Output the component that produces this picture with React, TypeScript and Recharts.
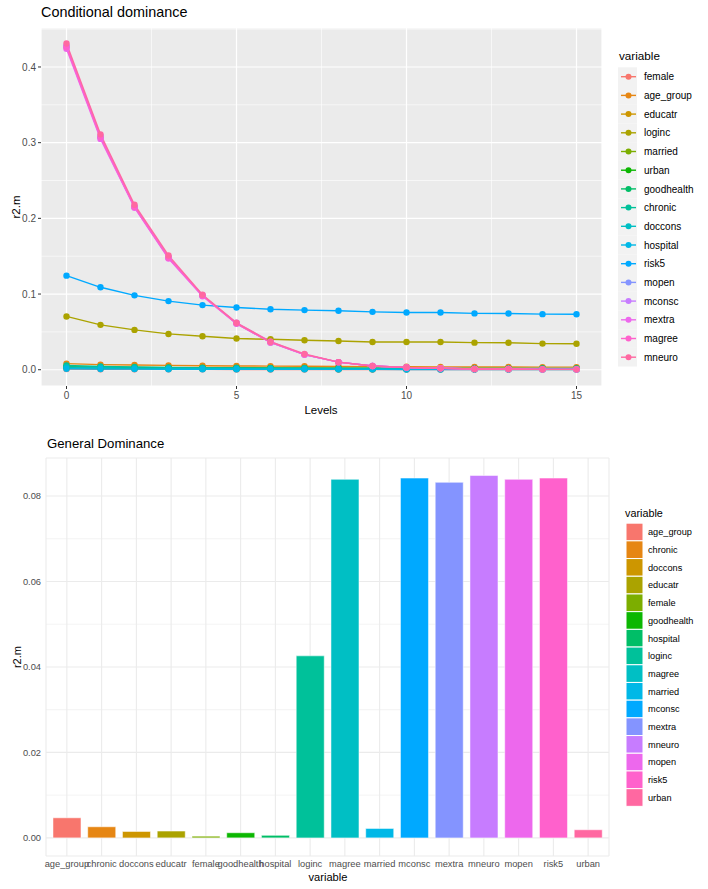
import { LineChart, Line, XAxis, YAxis, CartesianGrid, BarChart, Bar, Cell } from "recharts";

// ---- Conditional dominance (r2.m by number of other predictors) ----
const levels = [0, 1, 2, 3, 4, 5, 6, 7, 8, 9, 10, 11, 12, 13, 14, 15];

const female = [0.0008, 0.0007, 0.0006, 0.0005, 0.0005, 0.0004, 0.0004, 0.0004, 0.0003, 0.0003, 0.0003, 0.0003, 0.0003, 0.0003, 0.0003, 0.0003];
const ageGroup = [0.008, 0.0068, 0.0062, 0.0057, 0.0053, 0.005, 0.0047, 0.0045, 0.0043, 0.0041, 0.0039, 0.0038, 0.0037, 0.0036, 0.0035, 0.0034];
const educatr = [0.004, 0.003, 0.0024, 0.002, 0.0017, 0.0015, 0.0014, 0.0013, 0.0012, 0.0011, 0.0011, 0.001, 0.001, 0.001, 0.0009, 0.0009];
const loginc = [0.0704, 0.0593, 0.0526, 0.0473, 0.0442, 0.0412, 0.0402, 0.0389, 0.038, 0.0367, 0.0367, 0.0366, 0.0358, 0.0357, 0.0345, 0.0344];
const married = [0.004, 0.0034, 0.003, 0.0027, 0.0025, 0.0023, 0.0021, 0.002, 0.0019, 0.0018, 0.0017, 0.0017, 0.0016, 0.0016, 0.0015, 0.0015];
const urban = [0.003, 0.0027, 0.0024, 0.0022, 0.0021, 0.002, 0.0019, 0.0018, 0.0017, 0.0016, 0.0016, 0.0015, 0.0015, 0.0014, 0.0014, 0.0014];
const goodhealth = [0.0035, 0.0025, 0.0019, 0.0015, 0.0012, 0.001, 0.0009, 0.0008, 0.0007, 0.0007, 0.0006, 0.0006, 0.0006, 0.0005, 0.0005, 0.0005];
const chronic = [0.0055, 0.0043, 0.0036, 0.0031, 0.0028, 0.0026, 0.0024, 0.0022, 0.0021, 0.002, 0.0019, 0.0018, 0.0018, 0.0017, 0.0017, 0.0016];
const doccons = [0.0035, 0.0026, 0.0021, 0.0018, 0.0016, 0.0014, 0.0013, 0.0012, 0.0011, 0.0011, 0.001, 0.001, 0.001, 0.0009, 0.0009, 0.0009];
const hospital = [0.0012, 0.0009, 0.0008, 0.0007, 0.0006, 0.0006, 0.0005, 0.0005, 0.0005, 0.0005, 0.0004, 0.0004, 0.0004, 0.0004, 0.0004, 0.0004];
const risk5 = [0.1243, 0.1089, 0.0983, 0.0907, 0.0854, 0.0823, 0.08, 0.0788, 0.0779, 0.0765, 0.0757, 0.0756, 0.0744, 0.0743, 0.0734, 0.0733];
const mopen = [0.427, 0.307, 0.215, 0.148, 0.098, 0.061, 0.036, 0.02, 0.01, 0.005, 0.003, 0.002, 0.001, 0.001, 0.0005, 0.0005];
const mconsc = [0.428, 0.309, 0.216, 0.149, 0.098, 0.062, 0.037, 0.02, 0.01, 0.005, 0.003, 0.002, 0.001, 0.001, 0.0005, 0.0005];
const mextra = [0.424, 0.305, 0.214, 0.147, 0.097, 0.061, 0.036, 0.02, 0.01, 0.005, 0.003, 0.002, 0.001, 0.001, 0.0005, 0.0005];
const magree = [0.426, 0.307, 0.215, 0.148, 0.098, 0.061, 0.036, 0.02, 0.01, 0.005, 0.003, 0.002, 0.001, 0.001, 0.0005, 0.0005];
const mneuro = [0.431, 0.311, 0.218, 0.151, 0.099, 0.062, 0.037, 0.021, 0.01, 0.005, 0.003, 0.002, 0.001, 0.001, 0.0005, 0.0005];

const condVars = ["female", "age_group", "educatr", "loginc", "married", "urban", "goodhealth", "chronic", "doccons", "hospital", "risk5", "mopen", "mconsc", "mextra", "magree", "mneuro"];
const condSeries = [female, ageGroup, educatr, loginc, married, urban, goodhealth, chronic, doccons, hospital, risk5, mopen, mconsc, mextra, magree, mneuro];

// ggplot hue palette, 16 levels
const hue16 = ["#F8766D", "#E68613", "#CD9600", "#ABA300", "#7CAE00", "#0CB702", "#00BE67", "#00C19A", "#00BFC4", "#00B8E7", "#00A9FF", "#8494FF", "#C77CFF", "#ED68ED", "#FF61CC", "#FF68A1"];

const levelTicks = [0, 5, 10, 15];
const levelMinor = [2.5, 7.5, 12.5];
const condYTicks = [0, 0.1, 0.2, 0.3, 0.4];
const condYMinor = [0.05, 0.15, 0.25, 0.35, 0.45];

// ---- General dominance ----
const genVars = ["age_group", "chronic", "doccons", "educatr", "female", "goodhealth", "hospital", "loginc", "magree", "married", "mconsc", "mextra", "mneuro", "mopen", "risk5", "urban"];
const genValues = [0.0047, 0.0026, 0.0015, 0.0016, 0.0004, 0.0012, 0.0006, 0.0426, 0.0839, 0.0022, 0.0842, 0.0832, 0.0848, 0.0839, 0.0842, 0.0019];
const genYTicks = [0, 0.02, 0.04, 0.06, 0.08];
const genYMinor = [0.01, 0.03, 0.05, 0.07];

const FONT = '"Liberation Sans", Arial, sans-serif';

const condData = levels.map((lv, i) => {
  const row: Record<string, number> = { level: lv };
  condVars.forEach((v, k) => {
    row[v] = condSeries[k][i];
  });
  return row;
});

const genData = genVars.map((v, i) => ({ variable: v, value: genValues[i] }));

export default function App() {
  return (
    <div style={{ position: "absolute", left: 0, top: 0, width: 708, height: 889, background: "#fff", fontFamily: FONT, overflow: "hidden" }}>
      {/* top chart */}
      <div style={{ position: "absolute", left: 41, top: 4, fontSize: 14.4, color: "#000", whiteSpace: "nowrap" }}>
        Conditional dominance
      </div>
      <div style={{ position: "absolute", left: 0, top: 0 }}>
        <LineChart width={610} height={420} data={condData} margin={{ top: 28, right: 8, bottom: 10, left: 0 }}>
          <CartesianGrid fill="#EBEBEB" fillOpacity={1} stroke="#FFFFFF" strokeWidth={0.6}
            horizontalValues={condYMinor} verticalValues={levelMinor} />
          <CartesianGrid stroke="#FFFFFF" strokeWidth={1.2} />
          <XAxis dataKey="level" type="number" domain={[-0.75, 15.75]} ticks={levelTicks}
            axisLine={false} tickSize={3} tickMargin={3}
            tickLine={{ stroke: "#333333" }}
            tick={{ fill: "#4D4D4D", fontSize: 10, fontFamily: FONT }} height={24} />
          <YAxis type="number" domain={[-0.0215, 0.4515]} ticks={condYTicks} width={41}
            axisLine={false} tickSize={3} tickMargin={2}
            tickLine={{ stroke: "#333333" }}
            tickFormatter={(v: number) => v.toFixed(1)}
            tick={{ fill: "#4D4D4D", fontSize: 10, fontFamily: FONT }} />
          {condVars.map((v, k) => (
            <Line key={v} dataKey={v} type="linear" stroke={hue16[k]} strokeWidth={1.4}
              dot={{ r: 3.2, fill: hue16[k], stroke: hue16[k], strokeWidth: 0 }}
              activeDot={false} isAnimationActive={false} />
          ))}
        </LineChart>
      </div>
      <div style={{ position: "absolute", left: 16, top: 207, transform: "translate(-50%,-50%) rotate(-90deg)", fontSize: 11.5, whiteSpace: "nowrap" }}>
        r2.m
      </div>
      <div style={{ position: "absolute", left: 321, top: 410, transform: "translate(-50%,-50%)", fontSize: 11.5, whiteSpace: "nowrap" }}>
        Levels
      </div>
      <svg style={{ position: "absolute", left: 600, top: 40 }} width={108} height={340}>
        <text x={19} y={20} fontSize={11.7} fontFamily={FONT} fill="#000">variable</text>
        {condVars.map((v, k) => {
          const cy = 36.7 + k * 18.7;
          return (
            <g key={v}>
              <rect x={18} y={cy - 9.35} width={19} height={18.7} fill="#F2F2F2" />
              <line x1={21} x2={36} y1={cy} y2={cy} stroke={hue16[k]} strokeWidth={1.4} />
              <circle cx={28.5} cy={cy} r={3} fill={hue16[k]} />
              <text x={44} y={cy + 3.6} fontSize={10} fontFamily={FONT} fill="#000">{v}</text>
            </g>
          );
        })}
      </svg>

      {/* bottom chart */}
      <div style={{ position: "absolute", left: 47, top: 436, fontSize: 13.2, color: "#000", whiteSpace: "nowrap" }}>
        General Dominance
      </div>
      <div style={{ position: "absolute", left: 0, top: 440 }}>
        <BarChart width={612} height={449} data={genData} margin={{ top: 18, right: 3, bottom: 13, left: 0 }} barCategoryGap="10%">
          <CartesianGrid stroke="#EBEBEB" strokeWidth={0.6} vertical={false} horizontalValues={genYMinor} />
          <CartesianGrid stroke="#EBEBEB" strokeWidth={1.1} />
          <XAxis dataKey="variable" type="category" interval={0} padding={{ left: 3.5, right: 3.5 }}
            axisLine={false} tickLine={false} tickSize={0} tickMargin={4} height={20}
            tick={{ fill: "#4D4D4D", fontSize: 9.3, fontFamily: FONT }} />
          <YAxis type="number" domain={[-0.00424, 0.0889]} ticks={genYTicks} width={46}
            axisLine={false} tickLine={false} tickSize={0} tickMargin={5}
            tickFormatter={(v: number) => v.toFixed(2)}
            tick={{ fill: "#4D4D4D", fontSize: 9.3, fontFamily: FONT }} />
          <Bar dataKey="value" isAnimationActive={false} stroke="#FFFFFF" strokeWidth={0.5}>
            {genData.map((d, i) => (
              <Cell key={d.variable} fill={hue16[i]} />
            ))}
          </Bar>
        </BarChart>
      </div>
      <div style={{ position: "absolute", left: 17, top: 657, transform: "translate(-50%,-50%) rotate(-90deg)", fontSize: 11.1, whiteSpace: "nowrap" }}>
        r2.m
      </div>
      <div style={{ position: "absolute", left: 328, top: 877, transform: "translate(-50%,-50%)", fontSize: 11.1, whiteSpace: "nowrap" }}>
        variable
      </div>
      <svg style={{ position: "absolute", left: 620, top: 500 }} width={88} height={310}>
        <text x={5} y={17} fontSize={10.8} fontFamily={FONT} fill="#000">variable</text>
        {genVars.map((v, k) => {
          const cy = 32 + k * 17.7;
          return (
            <g key={v}>
              <rect x={6} y={cy - 8.85} width={17} height={17.7} fill={hue16[k]} stroke="#FFFFFF" strokeWidth={1} />
              <text x={28} y={cy + 3.3} fontSize={9.2} fontFamily={FONT} fill="#000">{v}</text>
            </g>
          );
        })}
      </svg>
    </div>
  );
}
